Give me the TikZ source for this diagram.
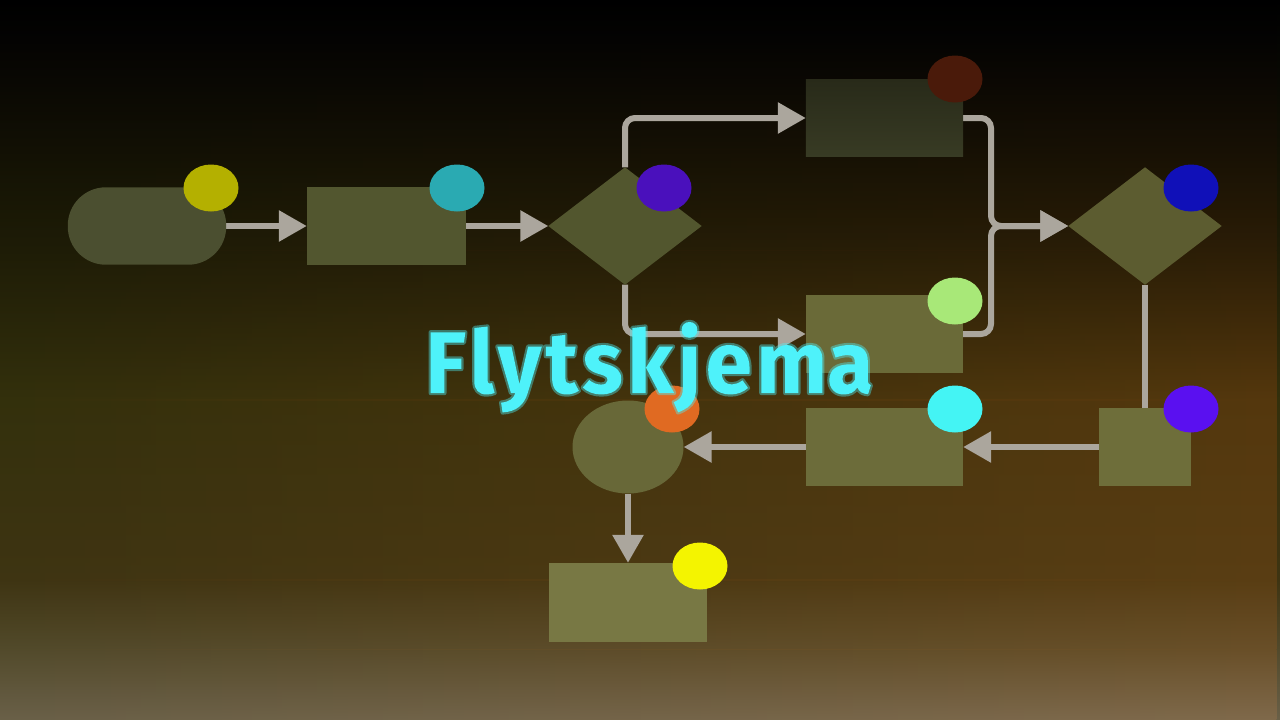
\documentclass[tikz,border=0pt]{standalone}
\usepackage{fontspec}
\setmainfont{Fira Sans}
\usetikzlibrary{shapes.geometric,arrows.meta,fadings}
% left-side background colours (top to bottom)
\definecolor{la}{HTML}{000000}
\definecolor{lb}{HTML}{040402}
\definecolor{lc}{HTML}{121104}
\definecolor{ld}{HTML}{1E1C06}
\definecolor{le}{HTML}{33300C}
\definecolor{lf}{HTML}{3E3412}
\definecolor{lg}{HTML}{524A2C}
\definecolor{lh}{HTML}{6A6048}
% right-side background colours
\definecolor{ra}{HTML}{000000}
\definecolor{rb}{HTML}{050302}
\definecolor{rc}{HTML}{181004}
\definecolor{rd}{HTML}{2C1E06}
\definecolor{re}{HTML}{55380E}
\definecolor{rf}{HTML}{5A3E14}
\definecolor{rg}{HTML}{6A5028}
\definecolor{rh}{HTML}{806A4C}
\definecolor{conncol}{HTML}{ABA69D}
\definecolor{titlecol}{HTML}{4EF2FA}
\definecolor{cS}{HTML}{4B4F30}
\definecolor{cR2}{HTML}{52562F}
\definecolor{cD1}{HTML}{52562E}
\definecolor{cR3t}{HTML}{282A19}
\definecolor{cR3b}{HTML}{383B24}
\definecolor{cD2}{HTML}{5C5C30}
\definecolor{cR4}{HTML}{6A6A38}
\definecolor{cR5}{HTML}{6C6C3A}
\definecolor{cR7}{HTML}{6E6E3A}
\definecolor{cC1}{HTML}{686838}
\definecolor{cR6}{HTML}{787844}
\definecolor{q1}{HTML}{B4B000}
\definecolor{q2}{HTML}{2AAAB2}
\definecolor{q3}{HTML}{4A10BC}
\definecolor{q4}{HTML}{4A1A0A}
\definecolor{q5}{HTML}{1010B8}
\definecolor{q6}{HTML}{A8E878}
\definecolor{q7}{HTML}{44F4F4}
\definecolor{q8}{HTML}{5A10F0}
\definecolor{q9}{HTML}{E06A22}
\definecolor{q10}{HTML}{F4F400}
\newcommand\flowtitle{\resizebox{448pt}{71pt}{\fontsize{100}{100}\selectfont\bfseries\addfontfeature{LetterSpace=5}Flytskjem\addfontfeature{LetterSpace=0}a}}
\tikzset{
  boxnode/.style={rectangle, inner sep=0pt, minimum width=157pt, minimum height=77pt},
  decision/.style={diamond, inner sep=0pt, minimum width=153pt, minimum height=117pt},
  dot/.style={ellipse, inner sep=0pt, minimum width=55pt, minimum height=47pt},
  conn/.style={draw=conncol, line width=6pt, rounded corners=10pt, -{Triangle[length=28pt,width=30pt]}},
  connline/.style={draw=conncol, line width=6pt, rounded corners=10pt},
}
\begin{document}
\begin{tikzpicture}[x=1pt,y=-1pt]
\useasboundingbox (0,0) rectangle (1280,720);
% background: left colours, then right colours fading in towards the east
\foreach \ya/\yb/\ca/\cb in {0/40/la/lb, 40/150/lb/lc, 150/250/lc/ld, 250/400/ld/le, 400/580/le/lf, 580/650/lf/lg, 650/720/lg/lh}{
  \shade[top color=\ca, bottom color=\cb] (-1,\ya-0.5) rectangle (1281,\yb+0.5);
}
\foreach \ya/\yb/\ca/\cb in {0/40/ra/rb, 40/150/rb/rc, 150/250/rc/rd, 250/400/rd/re, 400/580/re/rf, 580/650/rf/rg, 650/720/rg/rh}{
  \shade[top color=\ca, bottom color=\cb, path fading=west] (-1,\ya) rectangle (1281,\yb);
}

% node outlines (invisible) used for connectors
\node[rectangle, inner sep=0pt, minimum width=158pt, minimum height=77pt] (s1) at (147,226) {};
\node[boxnode, minimum width=159pt] (r2) at (386.5,226) {};
\node[decision] (d1) at (625,226) {};
\node[boxnode] (r3) at (884.5,118) {};
\node[decision] (d2) at (1145,226) {};
\node[boxnode] (r4) at (884.5,334) {};
\node[boxnode] (r5) at (884.5,447) {};
\node[rectangle, inner sep=0pt, minimum width=92pt, minimum height=77pt] (r7) at (1145,447) {};
\node[ellipse, inner sep=0pt, minimum width=111pt, minimum height=93pt] (c1) at (628,447) {};
\node[boxnode, minimum width=158pt, minimum height=79pt] (r6) at (628,602.5) {};

\coordinate (j) at (991,226);
\draw[conn] (s1.east) -- (r2.west);
\draw[conn] (r2.east) -- (d1.west);
\draw[conn] (d1.north) |- (r3.west);
\draw[conn] (d1.south) |- (r4.west);
\draw[conn] (r3.east) -| (j) -- (d2.west);
\draw[conn] (r4.east) -| (j) -- (d2.west);
\draw[connline] (d2.south) -- (r7.north);
\draw[conn] (r7.west) -- (r5.east);
\draw[conn] (r5.west) -- (c1.east);
\draw[conn] (c1.south) -- (r6.north);

% filled shapes
\fill[cS, rounded corners=38pt] (s1.south west) rectangle (s1.north east);
\fill[cR2] (r2.south west) rectangle (r2.north east);
\fill[cD1] (d1.north) -- (d1.east) -- (d1.south) -- (d1.west) -- cycle;
\shade[top color=cR3t, bottom color=cR3b] (r3.south west) rectangle (r3.north east);
\fill[cD2] (d2.north) -- (d2.east) -- (d2.south) -- (d2.west) -- cycle;
\fill[cR4] (r4.south west) rectangle (r4.north east);
\fill[cR5] (r5.south west) rectangle (r5.north east);
\fill[cR7] (r7.south west) rectangle (r7.north east);
\fill[cC1] (c1.center) ellipse [x radius=55.5pt, y radius=46.5pt];
\fill[cR6] (r6.south west) rectangle (r6.north east);

% dots
\node[dot, fill=q1] (p1) at (211,188) {};
\node[dot, fill=q2] (p2) at (457,188) {};
\node[dot, fill=q3] (p3) at (664,188) {};
\node[dot, fill=q4] (p4) at (955,79) {};
\node[dot, fill=q5] (p5) at (1191,188) {};
\node[dot, fill=q6] (p6) at (955,301) {};
\node[dot, fill=q7] (p7) at (955,409) {};
\node[dot, fill=q8] (p8) at (1191,409) {};
\node[dot, fill=q9] (p9) at (672,409) {};
\node[dot, fill=q10] (p10) at (700,566) {};

% title: filled text with a semi-transparent stroke as glow
\node[anchor=base west, inner sep=0pt, text=titlecol, draw opacity=0.4] (title) at (425,393)
  {\special{pdf:literal direct 1 j 2 Tr 5 w}\flowtitle\special{pdf:literal direct 0 Tr 1 w}};
\end{tikzpicture}
\end{document}
